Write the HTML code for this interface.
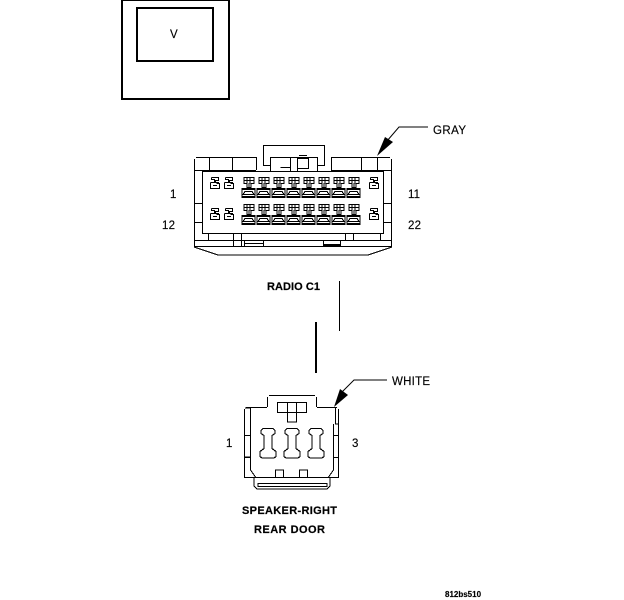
<!DOCTYPE html>
<html><head><meta charset="utf-8"><style>
html,body{margin:0;padding:0;background:#fff}
svg{display:block}
text{font-family:"Liberation Sans",sans-serif;font-size:11.5px;fill:#000;stroke:#000;stroke-width:.15}
.b{font-weight:bold;font-size:11px;stroke-width:.2}
</style></head><body>
<svg width="624" height="600" viewBox="0 0 624 600" xmlns="http://www.w3.org/2000/svg" fill="none" stroke="#000" stroke-width="1" shape-rendering="crispEdges">
<defs>
<g id="t"><path d="M-4.500 0.500h10v6h-3v4h-4v-4h-3z"/><path d="M-1.500 .5v6M1.500 .5v6M-4.500 3.500h10"/><path d="M.5 6v5"/><path d="M-6.500 11.500h13v9h-13z"/><path d="M-6 12.500h12M-6 19.500h12M-3.500 14.500h7l2 3h-11z"/></g>
<g id="s"><path d="M-3.500 .5h7v3h-3v2h3v1M-3.500 .5v2h3v3h-4M-4.500 5.500v6h9v-5h-3"/><path d="M-2 8.500h4"/></g>
<g id="slot"><path d="M-5 .5h10l2 2v3l-3 2v13l4 3v5l-2 1.500h-12l-2-1.500v-5l4-3v-13l-3-2v-3z" stroke-width="1.200"/></g>
</defs>

<!-- V box -->
<rect x="122" y="0" width="107" height="99" stroke-width="2"/>
<rect x="137" y="8" width="76" height="53" stroke-width="2"/>
<text x="170" y="38" stroke="none">V</text>

<!-- Radio connector -->
<path d="M196 157.500H256M331 157.500H390M194.500 159v88M391.500 159v88M194 246.500h198M194 247l24 8h150l24-8" stroke-width="1.200"/>
<path d="M194 170.500H256M331 170.500H392M256.500 157v13M331.500 157v13M209.500 157v13M232.500 157v13M361.500 157v13M377.500 157v13"/>
<rect x="202.500" y="171.500" width="181" height="62" stroke-width="1.200"/>
<path d="M194.500 203.500h8M194.500 222.500h8M383.500 203.500h8M383.500 222.500h8"/>
<path d="M263 145.500h61M263.500 145v21M324.500 145v21M263 165.500h7M318 165.500h6"/>
<path d="M270.500 157v14M317.500 157v14M270 157.500h47M280.500 157.500h10v10h-10M297.500 158.500h11v10h-11zM290.500 157v14M297.500 157v14M299 155.500h8" />
<path d="M208.500 233.500v7M233.500 233v14M241.500 233v14M345.500 233v7M353.500 233v7M380.500 233v7M208 233.500h26M241 233.500h105M353 233.500h28M194 240.500h198M244.500 240v7M263.500 240v7M244 243.500h20"/>
<path d="M323 245.500h17" stroke-width="3"/>
<path d="M323.500 241v4M340.500 240v7"/>

<use href="#t" x="248.500" y="177"/><use href="#t" x="263.500" y="177"/><use href="#t" x="278.500" y="177"/><use href="#t" x="293.500" y="177"/><use href="#t" x="308.500" y="177"/><use href="#t" x="323.500" y="177"/><use href="#t" x="338.500" y="177"/><use href="#t" x="353.500" y="177"/>
<use href="#t" x="248.500" y="204"/><use href="#t" x="263.500" y="204"/><use href="#t" x="278.500" y="204"/><use href="#t" x="293.500" y="204"/><use href="#t" x="308.500" y="204"/><use href="#t" x="323.500" y="204"/><use href="#t" x="338.500" y="204"/><use href="#t" x="353.500" y="204"/>
<use href="#s" x="215" y="177"/><use href="#s" x="229" y="177"/><use href="#s" x="374" y="177"/>
<use href="#s" x="215" y="208"/><use href="#s" x="229" y="208"/><use href="#s" x="374" y="208"/>

<!-- Gray leader -->
<path d="M387 141L399 127h29" shape-rendering="auto"/>
<path d="M377 156l8-19 8 5z" fill="#000" stroke="none" shape-rendering="auto"/>

<text x="170" y="198" stroke="none">1</text>
<text x="162" y="229" textLength="13" stroke="none">12</text>
<text x="408" y="198" textLength="12" stroke="none">11</text>
<text x="408" y="229" textLength="13" stroke="none">22</text>
<text x="433" y="134" textLength="33" stroke="none">GRAY</text>
<text class="b" x="267" y="290" textLength="53">RADIO C1</text>

<!-- Wires -->
<path d="M339.500 281v50"/>
<path d="M316 322v51" stroke-width="2"/>

<!-- Speaker connector -->
<path d="M246 407.500h21M317 407.500h20M244.500 409v69M338.500 409v69M244 477.500h95" stroke-width="1.200"/>
<path d="M267.500 397v10M316.500 397v10M269 395.500h46"/>
<path d="M277.500 402.500h29v10h-29zM287.500 403v19h9v-19" stroke-width="1.200"/>
<path d="M250.500 408v62l5 7M333.500 424v46l-5 7M275.500 477v-7h8v7M299.500 477v-7h8v7"/>
<rect x="244.500" y="435.500" width="6" height="22"/><rect x="333.500" y="435.500" width="5" height="22"/>
<path d="M244.500 457h6M335.500 408v16h3M250 408h-5"/>
<use href="#slot" x="268" y="428"/><use href="#slot" x="292" y="428"/><use href="#slot" x="316" y="428"/>
<path d="M254 478v8l3 3h70l3-3v-8M258 483.500h69v3h-69z"/>

<!-- White leader -->
<path d="M342 392l12-12h33" shape-rendering="auto"/>
<path d="M334 407l6-18 8 6z" fill="#000" stroke="none" shape-rendering="auto"/>

<text x="226" y="447" stroke="none">1</text>
<text x="352" y="447" stroke="none">3</text>
<text x="392" y="385" textLength="38" stroke="none">WHITE</text>
<text class="b" x="242" y="514" textLength="95">SPEAKER-RIGHT</text>
<text class="b" x="254" y="533" textLength="71">REAR DOOR</text>
<text x="445" y="597" stroke="none" style="font-size:8px;font-weight:bold">812bs510</text>
</svg>
</body></html>
